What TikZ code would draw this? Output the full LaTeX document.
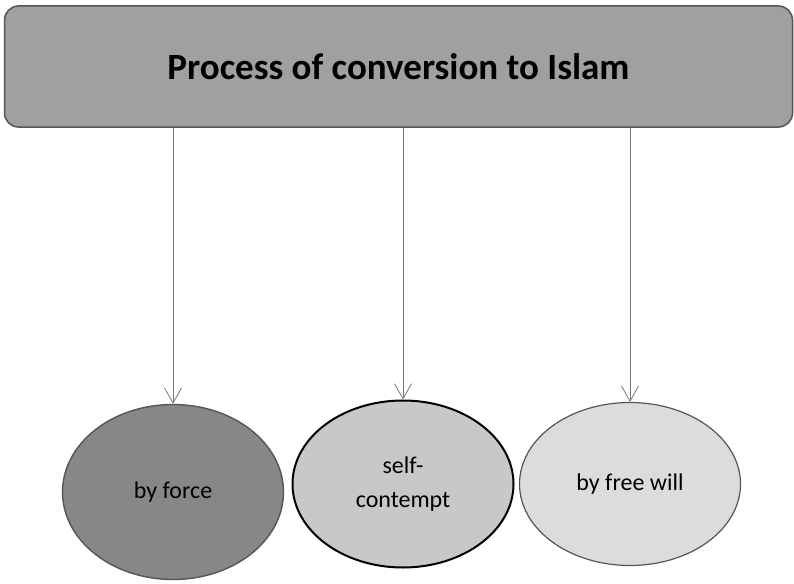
\documentclass[tikz,border=0pt]{standalone}
\usepackage{fontspec}
\setmainfont{Carlito}
\usetikzlibrary{arrows.meta, shapes.geometric}
\tikzset{>=stealth}
\definecolor{boxgray}{HTML}{A0A0A0}
\definecolor{edgegray}{HTML}{555555}
\definecolor{darkfill}{HTML}{878787}
\definecolor{midfill}{HTML}{C8C8C8}
\definecolor{lightfill}{HTML}{DCDCDC}
\definecolor{linegray}{HTML}{777777}
\tikzset{
    titlebox/.style = {draw = edgegray, line width = 1.5pt, fill = boxgray, rounded corners = 14pt, minimum width = 788pt, minimum height = 121pt, font = \fontsize{37}{44}\selectfont\bfseries},
    way/.style = {ellipse, draw = edgegray, line width = 1.4pt, minimum width = 221pt, inner sep = 0pt, align = center, font = \fontsize{24}{34}\selectfont},
    link/.style = {draw = linegray, line width = 0.8pt, -{Straight Barb[length = 15pt, width = 17pt]}}
}

\begin{document}
\begin{tikzpicture}[x = 1pt, y = -1pt]
    \useasboundingbox (0,0) rectangle (794,583);
    \node [titlebox] (title) at (398.5,66.5) {Process of conversion to Islam};
    \node [way, fill = darkfill, minimum height = 175pt] (force) at (173,492) {by force};
    \node [way, fill = midfill, draw = black, line width = 2pt, minimum height = 167pt] (self) at (403,484) {self-\\contempt};
    \node [way, fill = lightfill, line width = 1.2pt, minimum height = 163pt] (free) at (630,484) {by free will};
    \draw [link] (title.south -| force) -- (force.north);
    \draw [link] (title.south -| self) -- (self.north);
    \draw [link] (title.south -| free) -- (free.north);
\end{tikzpicture}
\end{document}
